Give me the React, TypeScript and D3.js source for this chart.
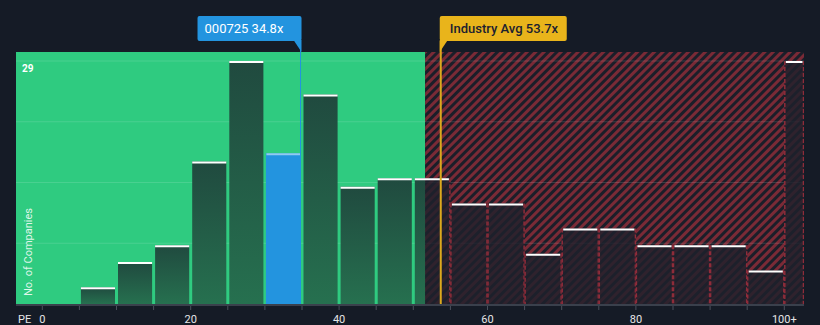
import React from "react";
import * as d3 from "d3";

const binStarts = [0, 5, 10, 15, 20, 25, 30, 35, 40, 45, 50, 55, 60, 65, 70, 75, 80, 85, 90, 95, 100];
const counts = [0, 2, 5, 7, 17, 29, 18, 25, 14, 15, 15, 12, 12, 6, 9, 9, 7, 7, 7, 4, 29];
const binSize = 5;
const tickValues = [0, 20, 40, 60, 80, 100];
const tickLabels = ["0", "20", "40", "60", "80", "100+"];
const companyName = "000725";
const companyPE = 34.8;
const industryAvg = 53.7;
const thresholdPE = 51.6;
const yMax = 29;

const W = 820;
const H = 325;
const left = 16;
const right = 804;
const top = 52;
const bottom = 304;

export default function App() {
  const x = d3.scaleLinear().domain([0, 100]).range([42.3, 784.3]);
  const y = d3.scaleLinear().domain([0, yMax]).range([bottom, 61]);
  const thrX = x(thresholdPE);
  const gridVals = d3.range(1, 5).map((k) => (yMax * k) / 4);
  const minorTicks = d3.range(0, 101, 5);
  const font = "Roboto, 'Open Sans', sans-serif";

  const bars = binStarts.map((s, i) => {
    const x0 = x(s);
    const x1 = s >= 100 ? right : x(s + binSize);
    const highlight = companyPE >= s && companyPE < s + binSize;
    return { s, i, x0, x1, v: counts[i], highlight };
  }).filter((b) => b.v > 0);

  const compX = x(companyPE);
  const avgX = x(industryAvg);

  return (
    <svg width={W} height={H} style={{ display: "block", position: "absolute", left: 0, top: 0 }}>
      <defs>
        <pattern id="hatch" width="6" height="6" patternUnits="userSpaceOnUse" patternTransform="rotate(45)">
          <rect width="6" height="6" fill="#1b1e29" />
          <rect width="3" height="6" fill="#7a2a36" />
        </pattern>
        <linearGradient id="barGrad" x1="0" y1="0" x2="0" y2="1">
          <stop offset="0" stopColor="#204a3f" />
          <stop offset="1" stopColor="#26704f" />
        </linearGradient>
        <clipPath id="clipGreen">
          <rect x={left} y={0} width={thrX - left} height={H} />
        </clipPath>
        <clipPath id="clipRed">
          <rect x={thrX} y={0} width={right - thrX} height={H} />
        </clipPath>
      </defs>
      <rect x={0} y={0} width={W} height={H} fill="#151b26" />
      <rect x={left} y={top} width={thrX - left} height={bottom - top} fill="#2fcb80" />
      <rect x={thrX} y={top} width={right - thrX} height={bottom - top} fill="url(#hatch)" />

      {gridVals.map((g) => (
        <line key={g} x1={left} x2={right} y1={y(g)} y2={y(g)} stroke="rgba(255,255,255,0.13)" strokeWidth={1} />
      ))}

      {bars.map((b) =>
        b.highlight ? (
          <rect key={b.s} x={b.x0 + 1} y={y(b.v)} width={b.x1 - b.x0 - 2} height={bottom - y(b.v)} fill="#2394df" />
        ) : (
          <g key={b.s}>
            <rect clipPath="url(#clipGreen)" x={b.x0 + 1.5} y={y(b.v)} width={b.x1 - b.x0 - 3} height={bottom - y(b.v)} fill="url(#barGrad)" />
            <rect clipPath="url(#clipRed)" x={b.x0} y={y(b.v)} width={b.x1 - b.x0} height={bottom - y(b.v)} fill="#1e212c" opacity={0.82} />
            <g clipPath="url(#clipRed)">
              <line x1={b.x0 + 0.5} x2={b.x0 + 0.5} y1={y(b.v)} y2={bottom} stroke="#8f2c3a" strokeWidth={1.5} strokeDasharray="4,2" />
              <line x1={b.x1 - 0.5} x2={b.x1 - 0.5} y1={y(b.v)} y2={bottom} stroke="#8f2c3a" strokeWidth={1.5} strokeDasharray="4,2" />
            </g>
          </g>
        )
      )}
      {bars.map((b) => (
        <line key={"t" + b.s} x1={b.x0 + 1.5} x2={b.x1 - 1.5} y1={y(b.v) + 1} y2={y(b.v) + 1} stroke={b.highlight ? "rgba(255,255,255,0.5)" : "#ffffff"} strokeWidth={2} />
      ))}

      {/* axis */}
      <line x1={left} x2={right} y1={bottom + 1} y2={bottom + 1} stroke="#3a404c" strokeWidth={2} />
      {minorTicks.map((t) => (
        <line key={t} x1={x(t)} x2={x(t)} y1={bottom + 2} y2={bottom + 6} stroke="#4a505c" strokeWidth={1} />
      ))}
      {tickValues.map((t, i) => (
        <text key={t} x={x(t)} y={323} textAnchor="middle" fontFamily={font} fontSize={11} fill="#e6e6e6">
          {tickLabels[i]}
        </text>
      ))}
      <text x={18} y={323} fontFamily={font} fontSize={11} fill="#e6e6e6">PE</text>

      <text transform={`translate(32,${252}) rotate(-90)`} textAnchor="middle" fontFamily={font} fontSize={11} fill="rgba(255,255,255,0.85)">
        No. of Companies
      </text>
      <text x={22} y={72} fontFamily={font} fontSize={10} fontWeight="bold" fill="#ffffff">{yMax}</text>

      {/* industry avg */}
      <line x1={avgX} x2={avgX} y1={41} y2={bottom} stroke="#dca91e" strokeWidth={2} />
      <rect x={avgX - 1} y={16} width={127} height={25} rx={2} fill="#e9b41b" />
      <path d={`M${avgX - 1},40 L${avgX + 7},40 L${avgX - 1},52 Z`} fill="#e9b41b" />
      <text x={avgX + 9} y={33} fontFamily={font} fontSize={13} fontWeight={500} fill="#1b2130">
        {`Industry Avg ${industryAvg}x`}
      </text>

      {/* company */}
      <line x1={compX} x2={compX} y1={41} y2={bottom} stroke="#2394df" strokeWidth={1} />
      <rect x={compX - 103} y={16} width={104} height={25} rx={2} fill="#2394df" />
      <path d={`M${compX - 7},40 L${compX + 1},40 L${compX + 1},52 Z`} fill="#2394df" />
      <text x={compX - 96} y={33} fontFamily={font} fontSize={13} fill="#ffffff">
        {`${companyName} ${companyPE}x`}
      </text>
    </svg>
  );
}
